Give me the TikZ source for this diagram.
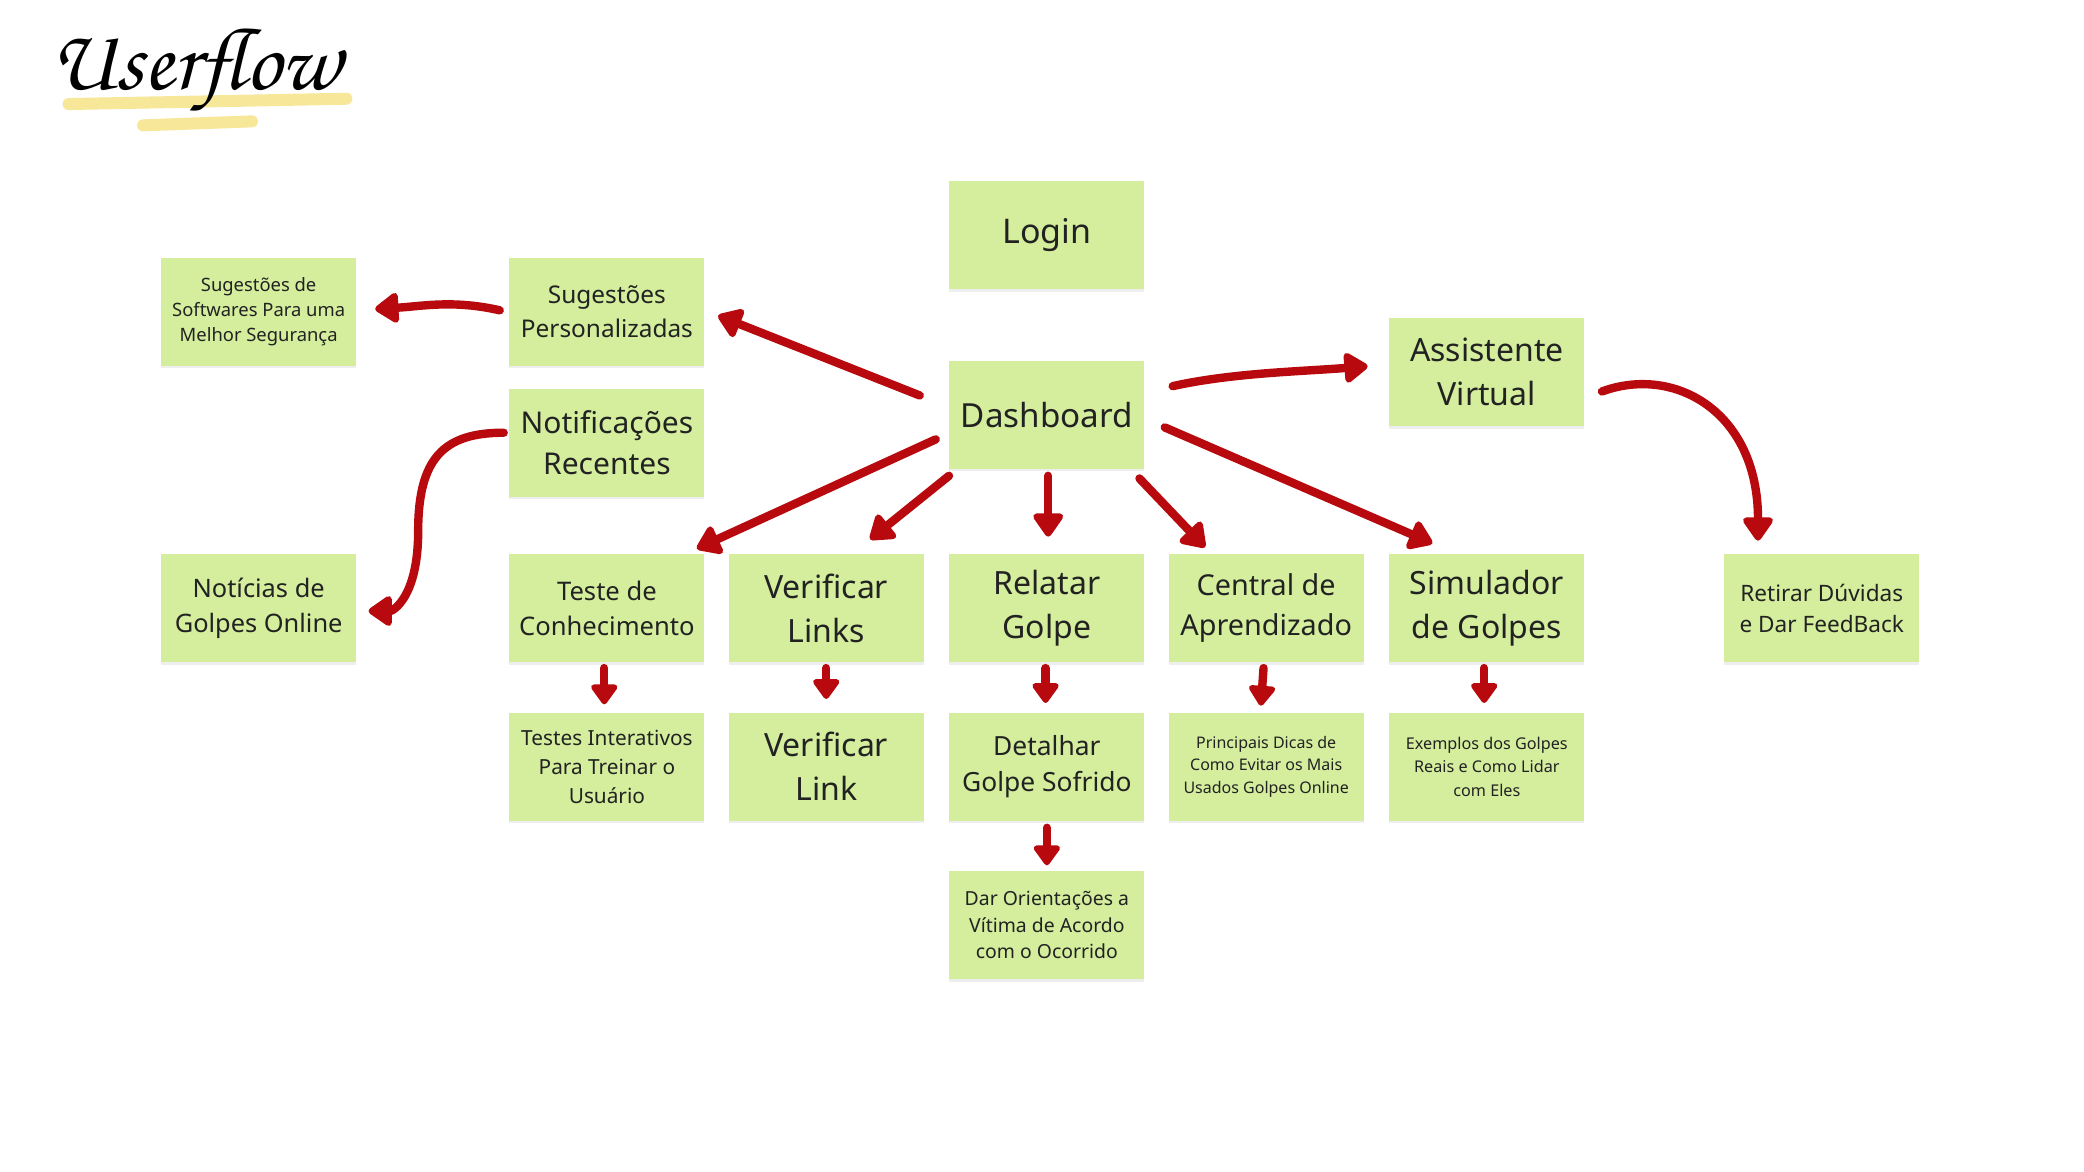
\documentclass[tikz,border=0pt]{standalone}
\usepackage{fontspec}
\setmainfont{Noto Sans}
\newfontfamily\handfont{texgyrechorus-mediumitalic.otf}
\usetikzlibrary{arrows.meta,calc,shadows}
\definecolor{boxgreen}{HTML}{D4EE9D}
\definecolor{arrred}{HTML}{B80A0E}
\definecolor{txt}{HTML}{222222}
\definecolor{hilite}{HTML}{F6E58E}
\newcommand{\fs}[2]{\fontsize{#1pt}{#2pt}\selectfont}
\tikzset{
  box/.style={fill=boxgreen, text=txt, align=center, inner sep=0pt,
    minimum width=97.5pt, minimum height=54pt,
    drop shadow={shadow xshift=0pt, shadow yshift=-1.3pt, opacity=0.13}},
  arr/.style={draw=arrred, line width=4.2pt, line cap=round, line join=round,
    -{Triangle[round, width=17pt, length=13pt]}},
  sarr/.style={draw=arrred, line width=4.2pt, line cap=round, line join=round,
    -{Triangle[round, width=15pt, length=11pt]}},
}
\begin{document}
\begin{tikzpicture}[x=0.66795pt, y=-0.66795pt]
\useasboundingbox[fill=white] (0,0) rectangle (1560,877.3);
\begin{scope}[x=0.6646pt, y=-0.6653pt, shift={(-0.4,-0.8)}]
% title
\draw[hilite, line width=6pt, line cap=round, opacity=0.9] (52,79) -- (261,75);
\draw[hilite, line width=6pt, line cap=round, opacity=0.9] (108,95) -- (190,92);
\node[text=black, anchor=base west, inner sep=0pt, font=\handfont\fs{44}{44}] (title) at (38,68) {Userflow};
% nodes
\node[box, font=\fs{17}{22}] (login) at (788,177.5) {Login};
\node[box, font=\fs{16.6}{22}] (dash) at (788,312.5) {Dashboard};
\node[box, font=\fs{12.2}{16.7}] (sugp) at (457,235) {Sugestões\\Personalizadas};
\node[box, font=\fs{9.2}{12.7}] (sugs) at (195,235) {Sugestões de\\Softwares Para uma\\Melhor Segurança};
\node[box, font=\fs{15}{20.7}] (notif) at (457,333.5) {Notificações\\Recentes};
\node[box, font=\fs{12.7}{17.4}] (noti) at (195,458) {Notícias de\\Golpes Online};
\node[box, font=\fs{16}{22}] (assist) at (1119,280.5) {Assistente\\Virtual};
\node[box, font=\fs{12.8}{17.4}] (teste) at (457,458) {Teste de\\Conhecimento};
\node[box, font=\fs{16}{22}] (verl) at (622,458) {Verificar\\Links};
\node[box, font=\fs{16}{22}] (rel) at (788,458) {Relatar\\Golpe};
\node[box, font=\fs{14.4}{20}] (cent) at (953,458) {Central de\\Aprendizado};
\node[box, font=\fs{16}{22}] (sim) at (1119,458) {Simulador\\de Golpes};
\node[box, font=\fs{11.3}{15.4}] (ret) at (1371,458) {Retirar Dúvidas\\e Dar FeedBack};
\node[box, font=\fs{10.4}{14.4}] (testi) at (457,577) {Testes Interativos\\Para Treinar o\\Usuário};
\node[box, font=\fs{16}{22}] (verlk) at (622,577) {Verificar\\Link};
\node[box, font=\fs{13.2}{18}] (det) at (788,577) {Detalhar\\Golpe Sofrido};
\node[box, font=\fs{8}{11.4}] (princ) at (953,577) {Principais Dicas de\\Como Evitar os Mais\\Usados Golpes Online};
\node[box, font=\fs{8.1}{11.7}] (exem) at (1119,577) {Exemplos dos Golpes\\Reais e Como Lidar\\com Eles};
\node[box, font=\fs{9.7}{13.4}] (dar) at (788,696) {Dar Orientações a\\Vítima de Acordo\\com o Ocorrido};
% connectors
\draw[arr] ($(sugp.west)+(-7,-1)$) .. controls +(-35,-8) and +(35,-2) .. ($(sugs.east)+(14,-2)$);
\draw[arr] ($(dash.west)+(-22,-14.5)$) -- ($(sugp.east)+(10,3)$);
\coordinate (nbend) at (315,400);
\draw[arr] ($(notif.west)+(-4,-7.5)$) .. controls +(-45,0) and +(0,-55) .. (nbend)
  .. controls +(0,50) and +(18,0) .. ($(noti.east)+(9,2)$);
\draw[arr] ($(dash.west)+(-10,18.5)$) -- ($(teste.north east)+(-6,-4)$);
\draw[arr] ($(dash.south west)+(0,5)$) -- ($(verl.north)+(33,-11)$);
\draw[arr] ($(dash.south)+(1,5)$) -- ($(rel.north)+(1,-13)$);
\draw[arr] ($(dash.south east)+(-4,7)$) -- ($(cent.north)+(-46,-5)$);
\draw[arr] ($(dash.east)+(15,9.5)$) -- ($(sim.north)+(-41,-8)$);
\draw[arr] ($(dash.east)+(21,-21.5)$) .. controls +(45,-10) and +(-50,4) .. ($(assist.west)+(-16,-4.5)$);
\draw[arr] ($(assist.east)+(13,14.5)$) .. controls (1260,275) and (1323,310) .. ($(ret.north)+(-48,-10)$);
\draw[sarr] ($(teste.south)+(-2,4)$) -- ($(testi.north)+(-2,-6)$);
\draw[sarr] ($(verl.south)+(0,4)$) -- ($(verlk.north)+(0,-10)$);
\draw[sarr] ($(rel.south)+(-1,4)$) -- ($(det.north)+(-1,-7)$);
\draw[sarr] ($(cent.south)+(-2,4)$) -- ($(princ.north)+(-4,-5)$);
\draw[sarr] ($(sim.south)+(-2,4)$) -- ($(exem.north)+(-2,-7)$);
\draw[sarr] ($(det.south)+(0,5)$) -- ($(dar.north)+(0,-4)$);
\end{scope}
\end{tikzpicture}
\end{document}
